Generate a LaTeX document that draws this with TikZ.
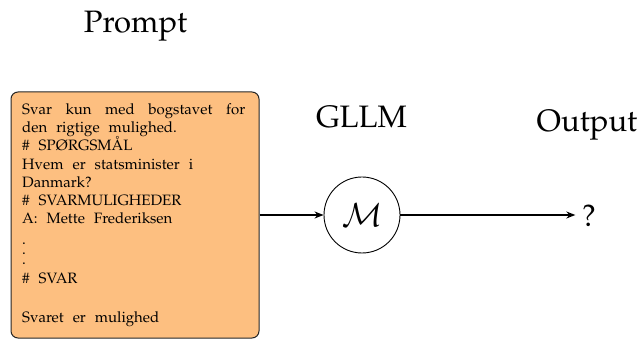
\documentclass[tikz,border=0pt]{standalone}
\usepackage[T1]{fontenc}
\usepackage{mathpazo}
\usetikzlibrary{arrows.meta}
\definecolor{promptfill}{HTML}{FDBF80}
\newcommand{\widespaces}{\spaceskip=0.6em plus 0.4em minus 0.1em\relax
  \xspaceskip=0.95em plus 0.3em\relax}
\begin{document}
\begin{tikzpicture}[x=1pt,y=-1pt,
  heading/.style={font=\fontsize{31}{36}\selectfont, inner sep=0pt, anchor=base},
  promptbox/.style={draw=black!85, fill=promptfill, rounded corners=7pt, line width=1pt,
    minimum width=248pt, minimum height=246pt, inner sep=0pt},
  prompttext/.style={font=\fontsize{15}{18.3}\selectfont,
    text width=223pt, align=left, inner sep=0pt, anchor=north west},
  model/.style={circle, draw, line width=0.9pt, minimum size=76pt, inner sep=0pt,
    font=\fontsize{32}{36}\selectfont},
  flow/.style={-{Stealth[length=9pt,width=7pt]}, line width=1.2pt}]
\useasboundingbox (0,0) rectangle (643,339);

% titles
\node[heading] (promptlbl) at (135.5,33) {Prompt};
\node[heading] (gllmlbl) at (361.5,127.7) {GLLM};
\node[heading] (outlbl) at (587,131.7) {Output};

% prompt box and its text
\node[promptbox] (prompt) at (135,215) {};
\node[prompttext] (prompttxt) at (22,101.19) {\widespaces\strut\makebox[223pt][s]{Svar kun med bogstavet for}\\
\widespaces den rigtige mulighed.\\
\widespaces\# SP\O RGSM\AA L\\
\widespaces Hvem er statsminister i\\
Danmark?\\
\widespaces\# SVARMULIGHEDER\\
\widespaces A: Mette Frederiksen\\[2.7pt]
.\\[-8.3pt]
.\\[-8.3pt]
.\\[0.7pt]
\widespaces\# SVAR\\[20.7pt]
\widespaces Svaret er mulighed};

% model and output
\node[model] (M) at (362,215) {$\mathcal{M}$};
\node[heading, inner xsep=6.6pt] (q) at (589,227) {?};

\draw[flow] (prompt.east) -- (M.west);
\draw[flow] (M.east) -- (M.east -| q.west);
\end{tikzpicture}
\end{document}
